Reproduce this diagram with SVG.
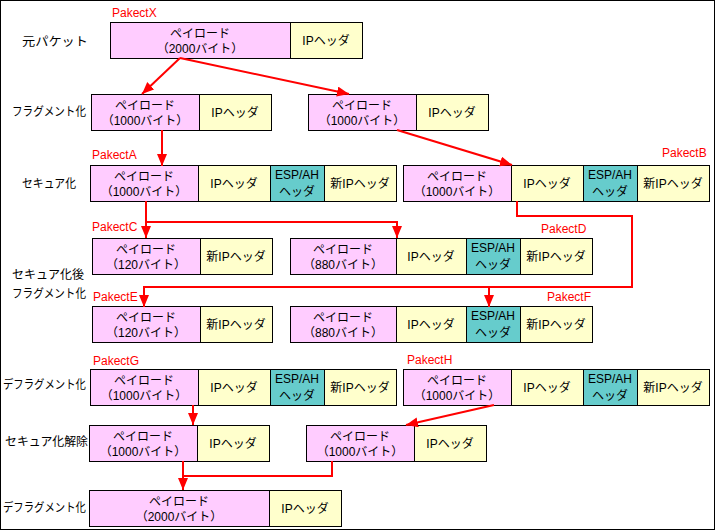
<svg xmlns="http://www.w3.org/2000/svg" width="715" height="530" viewBox="0 0 715 530">
<style>
text{font-family:"Liberation Sans","Noto Sans CJK JP",sans-serif;font-size:12px;fill:#000}
.c{text-anchor:middle}
.r{fill:#ff0000}
.pl{fill:#ffccff;stroke:#000;stroke-width:1}
.ip{fill:#ffffcc;stroke:#000;stroke-width:1}
.esp{fill:#66cccc;stroke:#000;stroke-width:1}
.a{fill:none;stroke:#ff0000;stroke-width:2}
.ah{marker-end:url(#arr)}
</style>
<defs>
<marker id="arr" markerUnits="userSpaceOnUse" markerWidth="13" markerHeight="11" refX="12" refY="5" orient="auto" viewBox="0 0 13 11">
<path d="M0,0 L12,5 L0,10 z" fill="#ff0000"/>
</marker>
</defs>
<rect x="0.5" y="0.5" width="714" height="529" fill="#fff" stroke="#000"/>
<g id="row-labels">
<text x="22" y="46" textLength="66" lengthAdjust="spacingAndGlyphs">元パケット</text>
<text x="12" y="116" textLength="74" lengthAdjust="spacingAndGlyphs">フラグメント化</text>
<text x="22" y="188" textLength="54" lengthAdjust="spacingAndGlyphs">セキュア化</text>
<text x="12" y="279" textLength="72" lengthAdjust="spacingAndGlyphs">セキュア化後</text>
<text x="12" y="298" textLength="74" lengthAdjust="spacingAndGlyphs">フラグメント化</text>
<text x="3" y="389" textLength="83" lengthAdjust="spacingAndGlyphs">デフラグメント化</text>
<text x="5" y="446" textLength="83" lengthAdjust="spacingAndGlyphs">セキュア化解除</text>
<text x="3" y="512" textLength="83" lengthAdjust="spacingAndGlyphs">デフラグメント化</text>
</g>
<g id="pktX">
<text class="r" x="112" y="17">PakectX</text>
<rect class="pl" x="110.5" y="22.5" width="180" height="36"/>
<rect class="ip" x="290.5" y="22.5" width="72" height="36"/>
<text class="c" x="200" y="38">ペイロード</text>
<text class="c" x="200" y="53">（2000バイト）</text>
<text class="c" x="326" y="45">IPヘッダ</text>
</g>
<g id="frag1">
<rect class="pl" x="91.5" y="94.5" width="108" height="36"/>
<rect class="ip" x="199.5" y="94.5" width="72" height="36"/>
<text class="c" x="145" y="110">ペイロード</text>
<text class="c" x="145" y="125">（1000バイト）</text>
<text class="c" x="235" y="117">IPヘッダ</text>
</g>
<g id="frag2">
<rect class="pl" x="308.5" y="94.5" width="108" height="36"/>
<rect class="ip" x="416.5" y="94.5" width="72" height="36"/>
<text class="c" x="362" y="110">ペイロード</text>
<text class="c" x="362" y="125">（1000バイト）</text>
<text class="c" x="452" y="117">IPヘッダ</text>
</g>
<g id="pktA">
<text class="r" x="92" y="159">PakectA</text>
<rect class="pl" x="90.5" y="165.5" width="108" height="36"/>
<rect class="ip" x="198.5" y="165.5" width="72" height="36"/>
<rect class="esp" x="270.5" y="165.5" width="54" height="36"/>
<rect class="ip" x="324.5" y="165.5" width="72" height="36"/>
<text class="c" x="144" y="181">ペイロード</text>
<text class="c" x="144" y="196">（1000バイト）</text>
<text class="c" x="234" y="188">IPヘッダ</text>
<text class="c" x="297" y="179">ESP/AH</text>
<text class="c" x="297" y="196">ヘッダ</text>
<text class="c" x="360" y="188">新IPヘッダ</text>
</g>
<g id="pktB">
<text class="r" x="662" y="157">PakectB</text>
<rect class="pl" x="403.5" y="165.5" width="108" height="36"/>
<rect class="ip" x="511.5" y="165.5" width="72" height="36"/>
<rect class="esp" x="583.5" y="165.5" width="54" height="36"/>
<rect class="ip" x="637.5" y="165.5" width="72" height="36"/>
<text class="c" x="457" y="181">ペイロード</text>
<text class="c" x="457" y="196">（1000バイト）</text>
<text class="c" x="547" y="188">IPヘッダ</text>
<text class="c" x="610" y="179">ESP/AH</text>
<text class="c" x="610" y="196">ヘッダ</text>
<text class="c" x="673" y="188">新IPヘッダ</text>
</g>
<g id="pktC">
<text class="r" x="92" y="231">PakectC</text>
<rect class="pl" x="92.5" y="238.5" width="108" height="36"/>
<rect class="ip" x="200.5" y="238.5" width="72" height="36"/>
<text class="c" x="146" y="254">ペイロード</text>
<text class="c" x="146" y="269">（120バイト）</text>
<text class="c" x="236" y="261">新IPヘッダ</text>
</g>
<g id="pktD">
<text class="r" x="541" y="233">PakectD</text>
<rect class="pl" x="290.5" y="238.5" width="106" height="36"/>
<rect class="ip" x="396.5" y="238.5" width="70" height="36"/>
<rect class="esp" x="466.5" y="238.5" width="54" height="36"/>
<rect class="ip" x="520.5" y="238.5" width="72" height="36"/>
<text class="c" x="343" y="254">ペイロード</text>
<text class="c" x="343" y="269">（880バイト）</text>
<text class="c" x="431" y="261">IPヘッダ</text>
<text class="c" x="493" y="252">ESP/AH</text>
<text class="c" x="493" y="269">ヘッダ</text>
<text class="c" x="556" y="261">新IPヘッダ</text>
</g>
<g id="pktE">
<text class="r" x="93" y="301">PakectE</text>
<rect class="pl" x="92.5" y="306.5" width="108" height="36"/>
<rect class="ip" x="200.5" y="306.5" width="72" height="36"/>
<text class="c" x="146" y="322">ペイロード</text>
<text class="c" x="146" y="337">（120バイト）</text>
<text class="c" x="236" y="329">新IPヘッダ</text>
</g>
<g id="pktF">
<text class="r" x="547" y="301">PakectF</text>
<rect class="pl" x="290.5" y="306.5" width="106" height="36"/>
<rect class="ip" x="396.5" y="306.5" width="70" height="36"/>
<rect class="esp" x="466.5" y="306.5" width="54" height="36"/>
<rect class="ip" x="520.5" y="306.5" width="72" height="36"/>
<text class="c" x="343" y="322">ペイロード</text>
<text class="c" x="343" y="337">（880バイト）</text>
<text class="c" x="431" y="329">IPヘッダ</text>
<text class="c" x="493" y="320">ESP/AH</text>
<text class="c" x="493" y="337">ヘッダ</text>
<text class="c" x="556" y="329">新IPヘッダ</text>
</g>
<g id="pktG">
<text class="r" x="93" y="365">PakectG</text>
<rect class="pl" x="90.5" y="369.5" width="108" height="36"/>
<rect class="ip" x="198.5" y="369.5" width="72" height="36"/>
<rect class="esp" x="270.5" y="369.5" width="54" height="36"/>
<rect class="ip" x="324.5" y="369.5" width="72" height="36"/>
<text class="c" x="144" y="385">ペイロード</text>
<text class="c" x="144" y="400">（1000バイト）</text>
<text class="c" x="234" y="392">IPヘッダ</text>
<text class="c" x="297" y="383">ESP/AH</text>
<text class="c" x="297" y="400">ヘッダ</text>
<text class="c" x="360" y="392">新IPヘッダ</text>
</g>
<g id="pktH">
<text class="r" x="407" y="364">PakectH</text>
<rect class="pl" x="403.5" y="369.5" width="108" height="36"/>
<rect class="ip" x="511.5" y="369.5" width="72" height="36"/>
<rect class="esp" x="583.5" y="369.5" width="54" height="36"/>
<rect class="ip" x="637.5" y="369.5" width="72" height="36"/>
<text class="c" x="457" y="385">ペイロード</text>
<text class="c" x="457" y="400">（1000バイト）</text>
<text class="c" x="547" y="392">IPヘッダ</text>
<text class="c" x="610" y="383">ESP/AH</text>
<text class="c" x="610" y="400">ヘッダ</text>
<text class="c" x="673" y="392">新IPヘッダ</text>
</g>
<g id="desec1">
<rect class="pl" x="89.5" y="425.5" width="108" height="36"/>
<rect class="ip" x="197.5" y="425.5" width="72" height="36"/>
<text class="c" x="143" y="441">ペイロード</text>
<text class="c" x="143" y="456">（1000バイト）</text>
<text class="c" x="233" y="448">IPヘッダ</text>
</g>
<g id="desec2">
<rect class="pl" x="306.5" y="425.5" width="108" height="36"/>
<rect class="ip" x="414.5" y="425.5" width="72" height="36"/>
<text class="c" x="360" y="441">ペイロード</text>
<text class="c" x="360" y="456">（1000バイト）</text>
<text class="c" x="450" y="448">IPヘッダ</text>
</g>
<g id="defrag">
<rect class="pl" x="89.5" y="490.5" width="180" height="36"/>
<rect class="ip" x="269.5" y="490.5" width="72" height="36"/>
<text class="c" x="179" y="506">ペイロード</text>
<text class="c" x="179" y="521">（2000バイト）</text>
<text class="c" x="305" y="513">IPヘッダ</text>
</g>
<g id="connectors">
<line class="a ah" x1="180" y1="58" x2="142" y2="94"/>
<line class="a ah" x1="180" y1="58" x2="349" y2="94"/>
<line class="a ah" x1="162" y1="130" x2="162" y2="166"/>
<line class="a ah" x1="397" y1="130" x2="512" y2="165"/>
<line class="a ah" x1="146" y1="201" x2="146" y2="238"/>
<polyline class="a ah" points="146,222 397,222 397,238"/>
<polyline class="a ah" points="517,201 517,216 632,216 632,287 144,287 144,307"/>
<line class="a ah" x1="489" y1="287" x2="489" y2="307"/>
<line class="a ah" x1="193" y1="405" x2="193" y2="425"/>
<line class="a ah" x1="494" y1="405" x2="406" y2="425"/>
<line class="a ah" x1="183" y1="461" x2="183" y2="490"/>
<polyline class="a" points="332,461 332,476 183,476"/>
</g>
</svg>
